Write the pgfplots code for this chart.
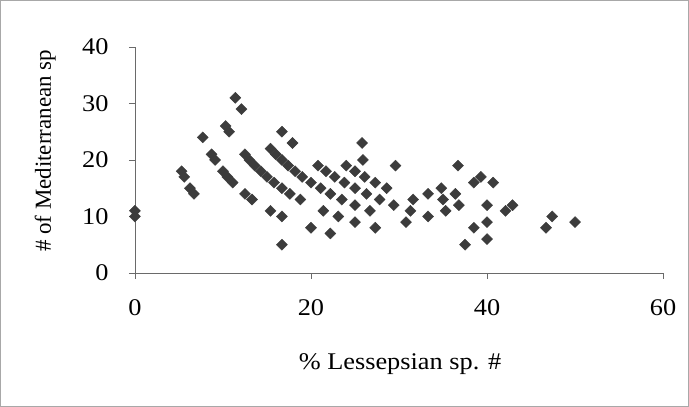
\documentclass[border=0pt]{standalone}
\usepackage{fontspec}
\usepackage{pgfplots}
\pgfplotsset{compat=1.18}
\newfontfamily\hfont{Liberation Serif}[FakeStretch=1.1]
\newfontfamily\vfont{Liberation Serif}
\definecolor{markgray}{HTML}{3C3C3C}
\definecolor{axisgray}{HTML}{6A6A6A}
\definecolor{framegray}{HTML}{A8A8A8}

\begin{document}
\begin{tikzpicture}[x=1bp,y=1bp]
% outer chart frame
\draw[framegray,line width=0.8bp] (0.5,0.5) rectangle (688.5,406.5);
\begin{axis}[
  scale only axis,
  width=528bp, height=226bp,
  at={(135bp,134bp)}, anchor=south west,
  xmin=0, xmax=60, ymin=0, ymax=40,
  xtick={0,20,40,60}, ytick={0,10,20,30,40},
  axis x line=bottom, axis y line=left,
  axis line style={-, axisgray, line width=0.8bp},
  tick style={axisgray, line width=0.8bp},
  tick align=outside, major tick length=6bp,
  /pgf/number format/assume math mode=true,
  xticklabel style={font=\hfont\fontsize{24}{24}\selectfont, yshift=-17bp},
  yticklabel style={font=\hfont\fontsize{24}{24}\selectfont, xshift=-17bp},
  xlabel={\% Lessepsian sp. \#},
  ylabel={\# of Mediterranean sp},
  xlabel style={font=\hfont\fontsize{24}{24}\selectfont, at={(axis description cs:0.502,-0.405)}, anchor=center},
  ylabel style={font=\vfont\fontsize{23}{23}\selectfont, at={(axis description cs:-0.17,0.54)}, anchor=center},
  clip=false,
]
\addplot[only marks, mark=square*, mark size=3.9bp, color=markgray,
  mark options={rotate=45, draw=markgray, fill=markgray}]
coordinates {
  (0,10) (0,11)
  (5.3,18) (5.6,17) (6.25,15) (6.7,14) (16.7,5)
  (7.7,24) (8.7,21) (9.1,20) (10,18) (10.5,17) (11.1,16) (12.5,14) (13.3,13)
  (15.4,11) (16.7,10) (20,8) (22.2,7)
  (10.3,26) (10.7,25) (12.5,21) (13,20) (13.6,19) (14.3,18) (15,17) (15.8,16)
  (16.7,15) (17.6,14) (18.8,13) (21.4,11) (23.1,10) (25,9) (27.3,8) (37.5,5)
  (11.4,31) (12.1,29) (15.4,22) (16,21) (16.7,20) (17.4,19) (18.2,18) (19,17)
  (20,16) (21.1,15) (22.2,14) (23.5,13) (25,12) (26.7,11) (30.8,9) (40,6)
  (16.7,25) (17.9,23) (20.8,19) (21.7,18) (22.7,17) (23.8,16) (25,15) (26.3,14)
  (27.8,13) (29.4,12) (31.3,11) (33.3,10) (38.5,8)
  (24,19) (25,18) (26.1,17) (27.3,16) (28.6,15) (31.6,13) (35.3,11) (40,9)
  (25.9,20) (33.3,14) (35,13) (36.8,12) (46.7,8)
  (25.8,23) (29.6,19) (34.8,15) (36.4,14) (40,12) (42.1,11)
  (42.9,12) (47.4,10) (50,9)
  (38.5,16)
  (36.7,19) (39.3,17) (40.7,16)
};
\end{axis}
\end{tikzpicture}
\end{document}
